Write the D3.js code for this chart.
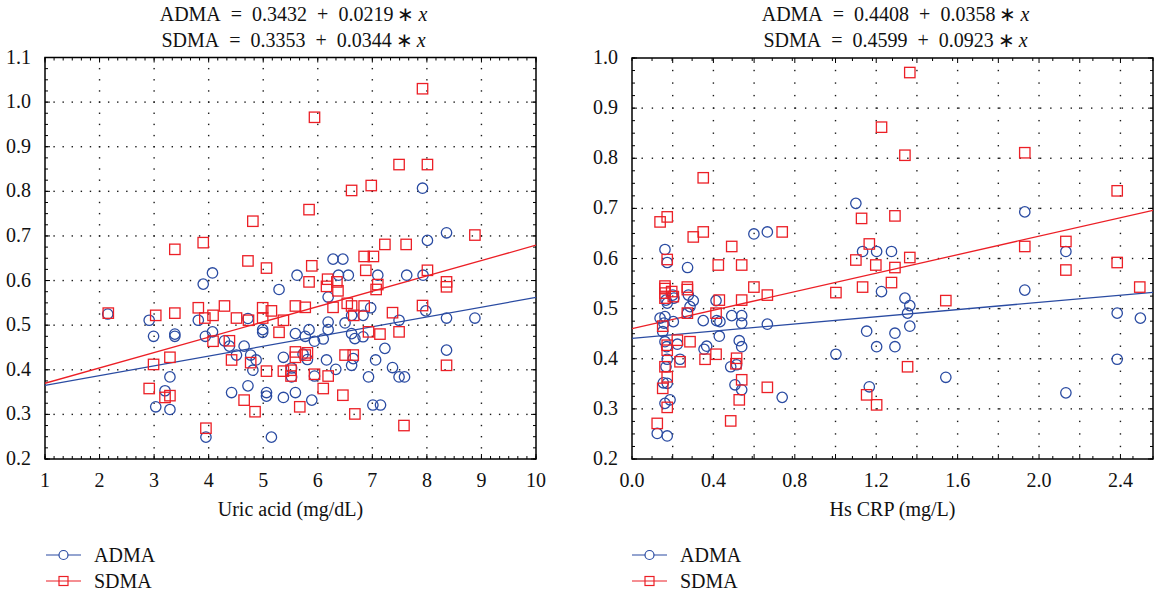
<!DOCTYPE html>
<html>
<head>
<meta charset="utf-8">
<script src="https://cdn.jsdelivr.net/npm/d3@7"></script>
<style>
  body { margin: 0; background: #fff; }
</style>
</head>
<body>
<div id="chart"></div>
<script>
// ---- data ----
const uricAdma = [
  [2.15,0.525],[2.91,0.511],[2.99,0.475],[3.03,0.317],[3.20,0.353],[3.29,0.311],[3.29,0.384],[3.38,0.480],[3.38,0.475],
  [3.81,0.511],[3.90,0.592],[3.94,0.475],[3.95,0.249],[4.07,0.617],[4.07,0.485],[4.29,0.465],[4.38,0.453],[4.42,0.349],
  [4.51,0.433],[4.65,0.453],[4.72,0.364],[4.72,0.515],[4.77,0.433],[4.81,0.399],[4.87,0.422],[4.99,0.490],[4.99,0.484],
  [5.06,0.349],[5.06,0.341],[5.15,0.249],[5.29,0.580],[5.37,0.428],[5.37,0.338],[5.52,0.404],[5.52,0.384],[5.59,0.481],
  [5.59,0.349],[5.62,0.612],[6.38,0.612],[6.56,0.612],[7.10,0.612],[7.63,0.612],[7.93,0.612],[6.19,0.563],[6.97,0.539],
  [7.98,0.532],[8.36,0.516],[8.88,0.516],[7.49,0.511],[6.19,0.507],[6.50,0.505],[6.19,0.490],[5.84,0.490],[6.62,0.481],
  [6.83,0.474],[6.68,0.470],[5.77,0.475],[5.94,0.464],[6.10,0.469],[7.23,0.448],[8.36,0.444],[5.73,0.435],[5.81,0.423],
  [6.16,0.422],[6.65,0.425],[6.62,0.410],[7.06,0.422],[6.33,0.401],[7.37,0.405],[5.94,0.386],[6.93,0.384],[7.49,0.384],
  [7.59,0.384],[5.89,0.332],[7.01,0.321],[7.15,0.321],[7.92,0.807],[8.01,0.690],[8.36,0.707],[6.28,0.648],[6.46,0.648],
  [6.62,0.522],[6.83,0.522]
];
const uricSdma = [
  [2.16,0.527],[2.91,0.358],[2.99,0.412],[3.03,0.522],[3.20,0.338],[3.29,0.342],[3.29,0.428],[3.38,0.527],[3.38,0.670],
  [3.81,0.539],[3.90,0.685],[3.93,0.516],[3.95,0.269],[4.08,0.522],[4.08,0.464],[4.29,0.543],[4.38,0.465],[4.42,0.422],
  [4.51,0.516],[4.65,0.332],[4.72,0.644],[4.73,0.511],[4.77,0.416],[4.81,0.733],[4.85,0.306],[4.99,0.539],[4.99,0.516],
  [5.06,0.628],[5.06,0.397],[5.15,0.532],[5.29,0.484],[5.37,0.511],[5.37,0.397],[5.51,0.399],[5.51,0.386],[5.59,0.543],
  [5.59,0.440],[5.59,0.428],[5.67,0.317],[5.77,0.540],[5.81,0.438],[5.77,0.433],[5.84,0.759],[5.84,0.597],[5.89,0.633],
  [5.94,0.966],[5.94,0.390],[6.10,0.358],[6.16,0.587],[6.18,0.603],[6.19,0.386],[6.28,0.540],[6.35,0.597],[6.37,0.577],
  [6.46,0.343],[6.50,0.433],[6.54,0.549],[6.62,0.802],[6.62,0.543],[6.66,0.522],[6.65,0.433],[6.68,0.301],[6.85,0.654],
  [6.85,0.543],[6.88,0.623],[6.93,0.485],[6.98,0.813],[7.02,0.654],[7.07,0.580],[7.10,0.591],[7.14,0.480],[7.23,0.681],
  [7.37,0.528],[7.49,0.860],[7.49,0.485],[7.58,0.275],[7.62,0.681],[7.92,1.030],[7.92,0.544],[8.01,0.860],[8.01,0.623],
  [8.36,0.597],[8.36,0.586],[8.36,0.410],[8.88,0.702]
];
const crpAdma = [
  [1.100,0.710],[1.133,0.614],[1.202,0.614],[1.275,0.614],[0.162,0.618],[0.173,0.592],[0.273,0.582],[0.599,0.649],
  [0.665,0.653],[1.930,0.693],[2.132,0.614],[1.226,0.534],[1.930,0.537],[1.341,0.521],[1.365,0.506],[1.354,0.491],
  [1.365,0.465],[1.153,0.455],[1.292,0.451],[1.202,0.424],[1.292,0.424],[1.166,0.344],[1.542,0.363],[2.384,0.491],
  [2.498,0.481],[2.384,0.399],[2.132,0.332],[0.277,0.527],[0.301,0.516],[0.285,0.504],[0.272,0.491],[0.138,0.481],
  [0.162,0.484],[0.167,0.517],[0.173,0.511],[0.200,0.527],[0.206,0.521],[0.203,0.474],[0.157,0.471],[0.151,0.454],
  [0.162,0.434],[0.223,0.429],[0.236,0.399],[0.173,0.399],[0.167,0.384],[0.154,0.352],[0.173,0.351],[0.162,0.311],
  [0.187,0.318],[0.124,0.251],[0.173,0.246],[0.350,0.476],[0.354,0.419],[0.367,0.425],[0.413,0.516],[0.416,0.476],
  [0.432,0.474],[0.429,0.445],[0.490,0.486],[0.485,0.384],[0.514,0.388],[0.539,0.486],[0.539,0.471],[0.527,0.436],
  [0.539,0.424],[0.506,0.348],[0.539,0.338],[0.665,0.469],[0.738,0.323],[1.002,0.409],[0.170,0.424]
];
const crpSdma = [
  [0.138,0.673],[0.173,0.683],[0.350,0.761],[0.301,0.643],[0.350,0.653],[0.490,0.624],[0.424,0.587],[0.539,0.587],
  [0.738,0.653],[0.173,0.598],[1.128,0.680],[1.166,0.629],[1.100,0.597],[1.198,0.587],[1.226,0.862],[1.365,0.971],
  [1.341,0.806],[1.930,0.811],[2.384,0.735],[1.292,0.685],[1.365,0.602],[1.292,0.582],[1.275,0.552],[1.930,0.624],
  [2.132,0.634],[2.132,0.577],[2.384,0.592],[2.495,0.543],[1.133,0.543],[1.542,0.516],[1.354,0.384],[1.153,0.328],
  [1.202,0.308],[0.272,0.543],[0.272,0.538],[0.272,0.491],[0.285,0.434],[0.223,0.437],[0.236,0.394],[0.359,0.399],
  [0.413,0.409],[0.413,0.491],[0.429,0.517],[0.539,0.517],[0.599,0.543],[0.665,0.527],[1.002,0.532],[0.151,0.465],
  [0.173,0.427],[0.173,0.417],[0.162,0.384],[0.173,0.364],[0.151,0.341],[0.173,0.303],[0.124,0.271],[0.485,0.276],
  [0.514,0.401],[0.511,0.390],[0.539,0.358],[0.527,0.318],[0.665,0.343],[0.162,0.540],[0.162,0.531],[0.162,0.521],
  [0.195,0.534],[0.203,0.524],[0.162,0.545]
];

// regression coefficients [intercept, slope]
const uricFit = { ADMA: [0.3432, 0.0219], SDMA: [0.3353, 0.0344] };
const crpFit = { ADMA: [0.4408, 0.0358], SDMA: [0.4599, 0.0923] };

// axis ticks
const uricXTicks = [1, 2, 3, 4, 5, 6, 7, 8, 9, 10];
const uricYTicks = [0.2, 0.3, 0.4, 0.5, 0.6, 0.7, 0.8, 0.9, 1.0, 1.1];
const crpXTicks = [0.0, 0.4, 0.8, 1.2, 1.6, 2.0, 2.4];
const crpXGrid = [0.2, 0.4, 0.6, 0.8, 1.0, 1.2, 1.4, 1.6, 1.8, 2.0, 2.2, 2.4];
const crpYTicks = [0.2, 0.3, 0.4, 0.5, 0.6, 0.7, 0.8, 0.9, 1.0];

const seriesNames = ['ADMA', 'SDMA'];
const colors = { ADMA: '#2a4ba2', SDMA: '#ec1f26' };
const FS = 20;

// pick the first serif face that is really installed (canvas width test)
function pickFont(list) {
  const ctx = document.createElement('canvas').getContext('2d');
  const probe = 'ADMA = 0.3432 + Uric acid (mg/dL)';
  ctx.font = '40px monospace';
  const base = ctx.measureText(probe).width;
  for (const f of list) {
    ctx.font = `40px "${f}", monospace`;
    if (Math.abs(ctx.measureText(probe).width - base) > 0.5) return `"${f}", serif`;
  }
  return 'serif';
}
const FONT = pickFont(['Liberation Serif', 'Tinos', 'Times New Roman', 'Noto Serif', 'DejaVu Serif', 'FreeSerif']);

// ---- drawing ----
const svg = d3.select('#chart').append('svg')
  .attr('width', 1154).attr('height', 594)
  .style('font-family', FONT);

function steps(a, b, n) {
  // n sub-steps between a and b (inclusive ends)
  return d3.range(n + 1).map(i => a + (b - a) * i / n);
}

function drawPanel(p) {
  const g = svg.append('g');
  const x = d3.scaleLinear().domain(p.xDomain).range([p.left, p.right]);
  const y = d3.scaleLinear().domain(p.yDomain).range([p.bottom, p.top]);

  // dotted grid: dots sit on the minor tick positions
  const grid = g.append('g').attr('fill', '#1a1a1a');
  const xDots = steps(p.xDomain[0], p.xDomain[1], Math.round((p.xDomain[1] - p.xDomain[0]) / p.xDotStep));
  const yDots = steps(p.yDomain[0], p.yDomain[1], Math.round((p.yDomain[1] - p.yDomain[0]) / p.yDotStep));
  p.yTicks.slice(1, -1).forEach(v => {
    grid.selectAll(null).data(xDots.slice(1, -1)).enter().append('rect')
      .attr('x', d => x(d) - 0.7).attr('y', y(v) - 0.7).attr('width', 1.4).attr('height', 1.4);
  });
  p.xGrid.filter(v => v > p.xDomain[0] && v < p.xDomain[1]).forEach(v => {
    grid.selectAll(null).data(yDots.slice(1, -1)).enter().append('rect')
      .attr('x', x(v) - 0.7).attr('y', d => y(d) - 0.7).attr('width', 1.4).attr('height', 1.4);
  });

  // frame
  g.append('rect')
    .attr('x', p.left).attr('y', p.top)
    .attr('width', p.right - p.left).attr('height', p.bottom - p.top)
    .attr('fill', 'none').attr('stroke', '#000').attr('stroke-width', 1.5);

  // inward ticks on all four sides
  const xMinor = steps(p.xDomain[0], p.xDomain[1], Math.round((p.xDomain[1] - p.xDomain[0]) / p.xMinorStep));
  const yMinor = steps(p.yDomain[0], p.yDomain[1], Math.round((p.yDomain[1] - p.yDomain[0]) / p.yMinorStep));
  const tk = g.append('g').attr('stroke', '#000').attr('stroke-width', 1);
  [[p.bottom, -1], [p.top, 1]].forEach(([yy, dir]) => {
    tk.selectAll(null).data(xMinor).enter().append('line')
      .attr('x1', d => x(d)).attr('x2', d => x(d))
      .attr('y1', yy).attr('y2', yy + dir * 3);
    tk.selectAll(null).data(p.xGrid).enter().append('line')
      .attr('x1', d => x(d)).attr('x2', d => x(d))
      .attr('y1', yy).attr('y2', yy + dir * 5);
  });
  [[p.left, 1], [p.right, -1]].forEach(([xx, dir]) => {
    tk.selectAll(null).data(yMinor).enter().append('line')
      .attr('y1', d => y(d)).attr('y2', d => y(d))
      .attr('x1', xx).attr('x2', xx + dir * 3);
    tk.selectAll(null).data(p.yTicks).enter().append('line')
      .attr('y1', d => y(d)).attr('y2', d => y(d))
      .attr('x1', xx).attr('x2', xx + dir * 5);
  });

  // tick labels
  g.append('g').selectAll('text').data(p.xTicks).enter().append('text')
    .attr('x', d => x(d)).attr('y', p.bottom + 28)
    .attr('text-anchor', 'middle').attr('font-size', FS).attr('fill', '#111')
    .text(p.xFormat);
  g.append('g').selectAll('text').data(p.yTicks).enter().append('text')
    .attr('x', p.left - 14).attr('y', d => y(d) + 6)
    .attr('text-anchor', 'end').attr('font-size', FS).attr('fill', '#111')
    .text(d3.format('.1f'));

  // axis title
  g.append('text')
    .attr('x', (p.left + p.right) / 2).attr('y', p.bottom + 57)
    .attr('text-anchor', 'middle').attr('font-size', FS).attr('fill', '#111')
    .text(p.xTitle);

  // equations above the frame (math-style spacing)
  seriesNames.forEach((s, i) => {
    const t = g.append('text')
      .attr('x', (p.left + p.right) / 2 + 3).attr('y', 21 + i * 26)
      .attr('text-anchor', 'middle').attr('font-size', FS).attr('fill', '#111');
    t.append('tspan').text(`${s}\u2002=\u2002${p.fit[s][0].toFixed(4)}\u2002+\u2002${p.fit[s][1].toFixed(4)}\u2009\u2217\u2009`);
    t.append('tspan').attr('font-style', 'italic').text('x');
  });

  // regression lines, clipped to the frame
  const clipId = 'clip-' + p.id;
  g.append('clipPath').attr('id', clipId).append('rect')
    .attr('x', p.left).attr('y', p.top).attr('width', p.right - p.left).attr('height', p.bottom - p.top);
  seriesNames.forEach(s => {
    const [a, b] = p.fit[s];
    g.append('line')
      .attr('clip-path', `url(#${clipId})`)
      .attr('x1', x(p.xDomain[0])).attr('y1', y(a + b * p.xDomain[0]))
      .attr('x2', x(p.xDomain[1])).attr('y2', y(a + b * p.xDomain[1]))
      .attr('stroke', colors[s]).attr('stroke-width', 1.3);
  });

  // points
  g.append('g').selectAll('circle').data(p.data.ADMA).enter().append('circle')
    .attr('cx', d => x(d[0])).attr('cy', d => y(d[1])).attr('r', 5.2)
    .attr('fill', 'none').attr('stroke', colors.ADMA).attr('stroke-width', 1.3);
  g.append('g').selectAll('rect').data(p.data.SDMA).enter().append('rect')
    .attr('x', d => x(d[0]) - 5.2).attr('y', d => y(d[1]) - 5.2).attr('width', 10.4).attr('height', 10.4)
    .attr('fill', 'none').attr('stroke', colors.SDMA).attr('stroke-width', 1.3);

  // legend
  const lg = g.append('g').attr('transform', `translate(${p.legendX}, 555)`);
  seriesNames.forEach((s, i) => {
    const row = lg.append('g').attr('transform', `translate(0, ${i * 26})`);
    row.append('line').attr('x1', 0).attr('x2', 35).attr('stroke', colors[s]).attr('stroke-width', 1.2);
    if (s === 'ADMA') {
      row.append('circle').attr('cx', 17.5).attr('r', 4.5).attr('fill', '#fff').attr('stroke', colors[s]).attr('stroke-width', 1.2);
    } else {
      row.append('rect').attr('x', 13).attr('y', -4.5).attr('width', 9).attr('height', 9)
        .attr('fill', 'none').attr('stroke', colors[s]).attr('stroke-width', 1.2);
    }
    row.append('text').attr('x', 48).attr('y', 7).attr('font-size', FS).attr('fill', '#111').text(s);
  });
}

drawPanel({
  id: 'uric', left: 45, right: 536, top: 57.5, bottom: 459,
  xDomain: [1, 10], yDomain: [0.2, 1.1],
  xTicks: uricXTicks, xGrid: uricXTicks, yTicks: uricYTicks,
  xMinorStep: 1 / 6, yMinorStep: 0.025, xDotStep: 1 / 6, yDotStep: 0.025,
  xFormat: d3.format('d'), xTitle: 'Uric acid (mg/dL)',
  fit: uricFit, data: { ADMA: uricAdma, SDMA: uricSdma }, legendX: 46
});

drawPanel({
  id: 'crp', left: 632, right: 1153, top: 58, bottom: 459,
  xDomain: [0, 2.56], yDomain: [0.2, 1.0],
  xTicks: crpXTicks, xGrid: crpXGrid, yTicks: crpYTicks,
  xMinorStep: 0.1, yMinorStep: 0.025, xDotStep: 0.05, yDotStep: 0.025,
  xFormat: d3.format('.1f'), xTitle: 'Hs CRP (mg/L)',
  fit: crpFit, data: { ADMA: crpAdma, SDMA: crpSdma }, legendX: 632
});
</script>
</body>
</html>
